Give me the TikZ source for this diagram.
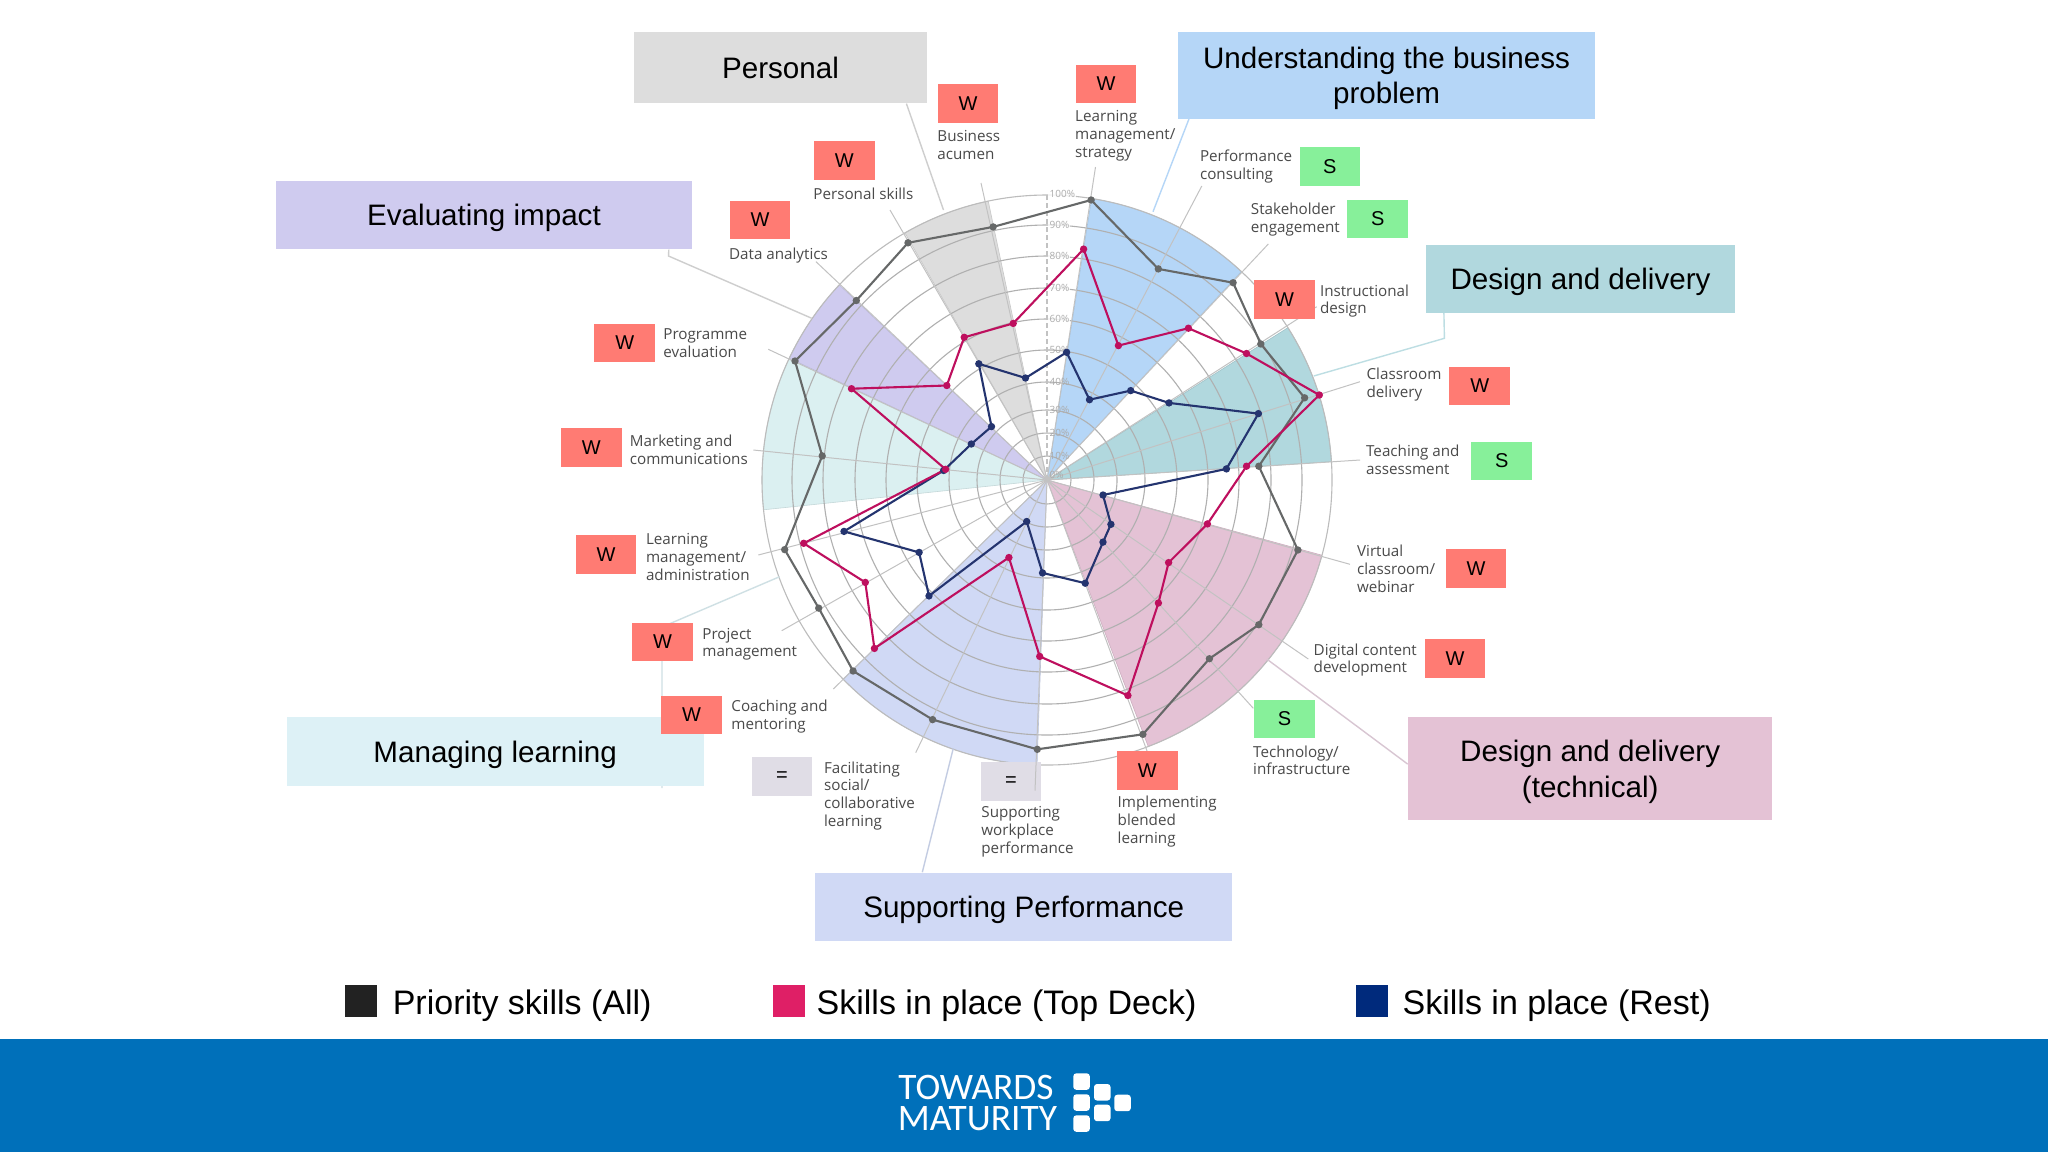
\documentclass[tikz,border=0pt]{standalone}
\usepackage{fontspec}
\setmainfont{Liberation Sans}
\newfontfamily\opensans{Open Sans}
\newfontfamily\carlito{Carlito}
\definecolor{cW}{HTML}{FF7B73}
\definecolor{cS}{HTML}{87F09A}
\definecolor{cE}{HTML}{E0DDE6}
\definecolor{cGrey}{HTML}{DDDDDD}
\definecolor{cBlue}{HTML}{B5D6F7}
\definecolor{cPurple}{HTML}{CFCBEF}
\definecolor{cTeal}{HTML}{B1D8DE}
\definecolor{cCyan}{HTML}{DDF1F6}
\definecolor{cCyanS}{HTML}{DBF0F1}
\definecolor{cPink}{HTML}{E4C2D5}
\definecolor{cLav}{HTML}{D0D9F5}
\definecolor{lineG}{HTML}{666868}
\definecolor{lineP}{HTML}{BE0F5E}
\definecolor{lineN}{HTML}{24346F}
\definecolor{ring}{HTML}{B0B0B0}
\definecolor{spokec}{HTML}{C2C2C2}
\definecolor{pctc}{HTML}{ABABAB}
\definecolor{labc}{HTML}{4A4A4A}
\definecolor{bannerc}{HTML}{0070BA}
\definecolor{legK}{HTML}{222222}
\definecolor{legP}{HTML}{DF1F66}
\definecolor{legN}{HTML}{002A7C}
\definecolor{leadTech}{HTML}{D8C6D2}
\definecolor{leadSup}{HTML}{C3CCE2}
\tikzset{
  catbox/.style={fill=#1,inner sep=0pt,align=center,text=black,text depth=0pt,font=\fontsize{14.8}{17.8}\selectfont},
  tagbox/.style={fill=#1,inner sep=0pt,minimum width=30.3pt,minimum height=19.3pt,text=black,font=\fontsize{10}{12}\selectfont},
  lbl/.style={anchor=west,inner sep=0pt,align=left,text=labc,text depth=0pt,font=\opensans\fontsize{7.6}{8.9}\selectfont},
  pct/.style={anchor=west,inner sep=.6pt,text=pctc,font=\opensans\fontsize{5}{6}\selectfont},
  pctw/.style={pct,fill=white,fill opacity=.8,text opacity=1},
  leg/.style={anchor=west,inner sep=0pt,text=black,text depth=0pt,font=\fontsize{17}{20}\selectfont},
  legbox/.style={fill=#1,inner sep=0pt,minimum width=16pt,minimum height=16pt},
  logot/.style={anchor=west,inner sep=0pt,text=white,font=\carlito\fontsize{18.7}{22}\selectfont},
  ringline/.style={draw=ring,line width=.55pt},
  spokeline/.style={draw=spokec,line width=.5pt},
  lead/.style={draw=#1,line width=.7pt},
  series/.style={draw=#1,line width=1.05pt,line join=round},
  sectorfill/.style={fill=#1,draw=#1!90!black,line width=.3pt},
}
\newcommand{\sector}[3]{\path[sectorfill=#1] (cc) -- plot[domain=#2:#3,samples=30] ({1047+285*cos(\x)},{480+285*sin(\x)}) -- cycle;}
\begin{document}
\begin{tikzpicture}[x=0.5pt,y=-0.5pt]
\useasboundingbox (0,0) rectangle (2048,1152);
\fill[white] (0,0) rectangle (2048,1152);
\coordinate (cc) at (1047,480);
% sectors
\sector{cBlue}{-81}{-47}
\sector{cTeal}{-32.3}{-3.7}
\sector{cPink}{15.3}{69.2}
\sector{cLav}{92}{135.7}
\sector{cCyanS}{174}{209.3}
\sector{cPurple}{-154.7}{-136.8}
\sector{cGrey}{-119.9}{-101.9}
% rings
\foreach \r in {24,47,70,98,130,161,192,224,255}
  \draw[ringline] (cc) circle[radius=\r];
\draw[ringline,draw=ring!85] (cc) circle[radius=285];
% supporting tag sits under its spoke
\node[tagbox=cE] (tSupp) at (1011,781.5) {=};
% spokes
\foreach \n/\x/\y in {1/1095.5/167,2/1201.8/186,3/1268.3/244,4/1316.7/306.7,5/1360/381.7,
  6/1360/460,7/1350/564.3,8/1308.3/659,9/1253.3/708.3,10/1147.3/751.7,
  11/1035/790.7,12/915.7/752.7,13/833.3/689,14/781.7/630.7,15/758.3/555,
  16/753.3/450,17/768.3/349.3,18/816/261.7,19/890/210,20/981/183}{
  \coordinate (s\n) at (\x,\y);
  \draw[spokeline] (cc) -- (s\n);
}
% axis
\draw[draw=spokec,line width=.6pt,dash pattern=on 2.5pt off 1.5pt] (cc) -- (1047,194);
\foreach \v/\y in {100/194,90/224.7,80/256,70/287.7,60/319}
  \node[pctw] (pct\v) at (1048,\y) {\v\%};
\foreach \v/\y in {50/350,40/382,30/410,20/433,10/455.7,0/475}
  \node[pct] (pct\v) at (1048,\y) {\v\%};
% data
\foreach \n/\x/\y in {1/1091.1/200,2/1158.3/268.9,3/1233.1/282.7,4/1260.8/344,5/1304.6/397.8,
  6/1258.8/466.2,7/1297.9/550,8/1258.8/624.7,9/1209.4/658.7,10/1142.9/734.3,
  11/1037.3/749.3,12/932.6/719.6,13/853.1/671,14/818.7/608.1,15/784.7/549.6,
  16/822.2/455.9,17/795/361,18/856.3/300.5,19/908/242.8,20/993.1/226.9}
  \coordinate (g\n) at (\x,\y);
\foreach \n/\x/\y in {1/1083.6/249.1,2/1118.4/345.6,3/1188.4/328.2,4/1246.5/353.5,5/1319.3/395,
  6/1246.5/466.2,7/1207.4/523.9,8/1168.6/562.6,9/1158.4/603,10/1127.9/695.5,
  11/1039.7/656.4,12/1008.9/557.5,13/874.4/648.4,14/865.3/582.4,15/803.7/543.3,
  16/945.6/469.3,17/851.5/388.7,18/946.8/385.5,19/964.2/337.3,20/1013.2/323.4}
  \coordinate (p\n) at (\x,\y);
\foreach \n/\x/\y in {1/1066.6/352.3,2/1089.5/399.7,3/1130.7/390.6,4/1169/402.9,5/1258.4/413.6,
  6/1226.4/468.9,7/1103/495,8/1110.9/524.3,9/1103/542.1,10/1085.2/583.2,
  11/1042.5/572.9,12/1026.7/521.5,13/929/595.9,14/919.1/552.4,15/844/531.4,
  16/943.6/470.5,17/971.3/444,18/991.5/426.6,19/978.8/363.8,20/1025.5/378}
  \coordinate (n\n) at (\x,\y);
\draw[series=lineG] (g1)--(g2)--(g3)--(g4)--(g5)--(g6)--(g7)--(g8)--(g9)--(g10)--(g11)--(g12)--(g13)--(g14)--(g15)--(g16)--(g17)--(g18)--(g19)--(g20)--cycle;
\draw[series=lineN] (n1)--(n2)--(n3)--(n4)--(n5)--(n6)--(n7)--(n8)--(n9)--(n10)--(n11)--(n12)--(n13)--(n14)--(n15)--(n16)--(n17)--(n18)--(n19)--(n20)--cycle;
\draw[series=lineP] (p1)--(p2)--(p3)--(p4)--(p5)--(p6)--(p7)--(p8)--(p9)--(p10)--(p11)--(p12)--(p13)--(p14)--(p15)--(p16)--(p17)--(p18)--(p19)--(p20)--cycle;
\foreach \i in {1,...,20}{
  \fill[lineG] (g\i) circle[radius=3.7];
  \fill[lineN] (n\i) circle[radius=3.7];
  \fill[lineP] (p\i) circle[radius=3.7];
}
% category boxes
\node[catbox=cGrey,minimum width=146.5pt,minimum height=35.7pt] (cPersonal) at (780.5,67.5) {Personal};
\node[catbox=cBlue,minimum width=208.4pt,minimum height=43.5pt] (cBusiness) at (1386.5,75.2) {Understanding the business\\problem};
\node[catbox=cPurple,minimum width=208.4pt,minimum height=34.3pt] (cEval) at (484,215) {Evaluating impact};
\node[catbox=cTeal,minimum width=154.2pt,minimum height=34pt] (cDesign) at (1580.5,278.7) {Design and delivery};
\coordinate (eManage) at (662,788);
\coordinate (kManage) at (662,627);
\coordinate (tManage) at (779.6,576.7);
\draw[lead=cCyan!85!gray] (eManage) -- (kManage) -- (tManage);
\node[catbox=cCyan,minimum width=208.7pt,minimum height=34.2pt] (cManage) at (495.2,751.5) {Managing learning};
\node[catbox=cPink,minimum width=182.1pt,minimum height=51.5pt] (cTech) at (1590.2,768.5) {Design and delivery\\(technical)};
\node[catbox=cLav,minimum width=208.4pt,minimum height=34.2pt] (cSupport) at (1023.7,906.8) {Supporting Performance};
% leaders
\coordinate (ePersonal) at (943.5,210);
\draw[lead=spokec!80] ([xshift=-10.5pt]cPersonal.south east) -- (ePersonal);
\coordinate (eBusiness) at (1153,211.7);
\draw[lead=cBlue] ([xshift=5.6pt]cBusiness.south west) -- (eBusiness);
\coordinate (kEval) at (668.5,256);
\coordinate (eEval) at (811.8,318.3);
\draw[lead=spokec!80] ([xshift=-12pt]cEval.south east) -- (kEval) -- (eEval);
\coordinate (kDesign) at (1444.4,338.3);
\coordinate (eDesign) at (1313.7,376);
\draw[lead=cTeal!85] ([xshift=9pt]cDesign.south west) -- (kDesign) -- (eDesign);
\coordinate (eTech) at (1266.7,659);
\draw[lead=leadTech] ([yshift=2.2pt]cTech.west) -- (eTech);
\coordinate (eSupport) at (953.3,748.3);
\draw[lead=leadSup] ([xshift=-50.7pt]cSupport.north) -- (eSupport);
% tags
\node[tagbox=cW] (tBusiness) at (968,103.5) {W};
\node[tagbox=cW] (tStrategy) at (1106,84) {W};
\node[tagbox=cW] (tPersonal) at (844.3,160.7) {W};
\node[tagbox=cW] (tData) at (760,220) {W};
\node[tagbox=cW] (tProgramme) at (624.7,342.8) {W};
\node[tagbox=cW] (tMarketing) at (591.3,447.5) {W};
\node[tagbox=cW] (tLMS) at (606,554.5) {W};
\node[tagbox=cW] (tProject) at (662.6,641.8) {W};
\node[tagbox=cW] (tCoach) at (691.5,715) {W};
\node[tagbox=cE] (tFacil) at (782,776.7) {=};
\node[tagbox=cW] (tImpl) at (1147.3,770.7) {W};
\node[tagbox=cS] (tTech) at (1284.5,718.9) {S};
\node[tagbox=cW] (tDigital) at (1455,658.5) {W};
\node[tagbox=cW] (tVirtual) at (1476,568.3) {W};
\node[tagbox=cS] (tTeach) at (1501.7,461) {S};
\node[tagbox=cW] (tClass) at (1479.7,385.8) {W};
\node[tagbox=cW] (tInstr) at (1284.5,299.5) {W};
\node[tagbox=cS] (tStake) at (1377.7,218.8) {S};
\node[tagbox=cS] (tPerf) at (1329.8,166.2) {S};
% labels
\node[lbl] (lBusiness) at (937,145) {Business\\acumen};
\node[lbl] (lStrategy) at (1074.8,134) {Learning\\management/\\strategy};
\node[lbl] (lPersonal) at (813,193.3) {Personal skills};
\node[lbl] (lData) at (728.7,253.3) {Data analytics};
\node[lbl] (lProgramme) at (663,343.3) {Programme\\evaluation};
\node[lbl] (lMarketing) at (629.5,449.7) {Marketing and\\communications};
\node[lbl] (lLMS) at (645.6,557) {Learning\\management/\\administration};
\node[lbl] (lProject) at (702,642.5) {Project\\management};
\node[lbl] (lCoach) at (731,715) {Coaching and\\mentoring};
\node[lbl] (lFacil) at (823.7,794) {Facilitating\\social/\\collaborative\\learning};
\node[lbl] (lSupp) at (981,830) {Supporting\\workplace\\performance};
\node[lbl] (lImpl) at (1117.3,820) {Implementing\\blended\\learning};
\node[lbl] (lTech) at (1252.8,760.3) {Technology/\\infrastructure};
\node[lbl] (lDigital) at (1313.3,658.3) {Digital content\\development};
\node[lbl] (lVirtual) at (1356.7,569) {Virtual\\classroom/\\webinar};
\node[lbl] (lTeach) at (1365.7,459.8) {Teaching and\\assessment};
\node[lbl] (lClass) at (1366.2,382.8) {Classroom\\delivery};
\node[lbl] (lInstr) at (1319.6,299.2) {Instructional\\design};
\node[lbl] (lStake) at (1250.5,218) {Stakeholder\\engagement};
\node[lbl] (lPerf) at (1199.6,164.7) {Performance\\consulting};
% legend
\node[legbox=legK] (kAll) at (361.2,1001.3) {};
\node[leg] (tAll) at (392.4,1002) {Priority skills (All)};
\node[legbox=legP] (kTop) at (789.2,1001.3) {};
\node[leg] (tTop) at (816.3,1002) {Skills in place (Top Deck)};
\node[legbox=legN] (kRest) at (1372,1001.3) {};
\node[leg] (tRest) at (1402.3,1002) {Skills in place (Rest)};
% banner
\fill[bannerc] (0,1039) rectangle (2048,1152);
\node[logot] (lgA) at (898,1087) {TOWARDS};
\node[logot] (lgB) at (897.5,1119) {MATURITY};
\foreach \x/\y in {1073.3/1073.3,1073.3/1094.3,1073.3/1115.3,1094/1084,1094/1104.7,1114.3/1094.7}
  \fill[white,rounded corners=1.5pt] (\x,\y) rectangle ++(16.5,16.5);
\end{tikzpicture}
\end{document}
